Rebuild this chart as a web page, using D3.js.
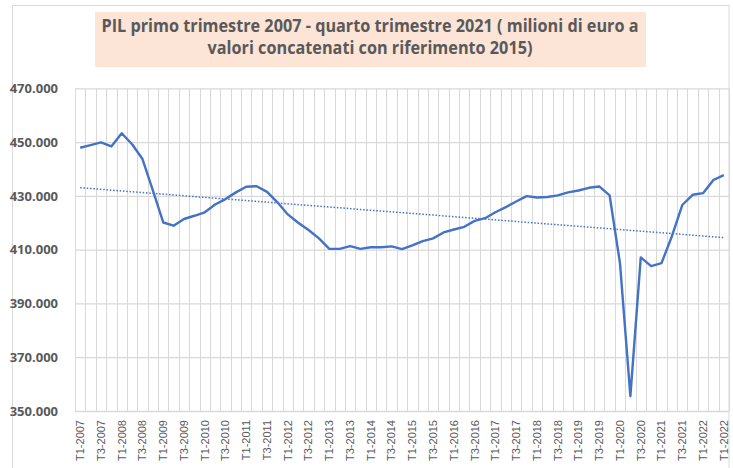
<!DOCTYPE html>
<html>
<head>
<meta charset="utf-8">
<script src="https://cdn.jsdelivr.net/npm/d3@7"></script>
<style>
  body { margin: 0; background: #fff; }
  svg { display: block; }
</style>
</head>
<body>
<div id="chart"></div>
<script>
const titleLines = [
  'PIL primo trimestre 2007 - quarto trimestre 2021 ( milioni di euro a',
  'valori concatenati con riferimento 2015)'
]

// one label every two quarters, as in the original sheet
const xTickLabels = [
  'T1-2007', 'T3-2007', 'T1-2008', 'T3-2008', 'T1-2009', 'T3-2009', 'T1-2010', 'T3-2010',
  'T1-2011', 'T3-2011', 'T1-2012', 'T3-2012', 'T1-2013', 'T3-2013', 'T1-2014', 'T3-2014',
  'T1-2015', 'T3-2015', 'T1-2016', 'T3-2016', 'T1-2017', 'T3-2017', 'T1-2018', 'T3-2018',
  'T1-2019', 'T3-2019', 'T1-2020', 'T3-2020', 'T1-2021', 'T3-2021', 'T1-2022', 'T1-2022'
]

// PIL, milioni di euro
const pil = [
  447900, 448900, 449900, 448400, 453300, 449200, 443700, 432000,
  420100, 418900, 421400, 422600, 423900, 426800, 428800, 431300,
  433400, 433600, 431500, 427600, 423100, 420000, 417300, 414200,
  410300, 410300, 411300, 410300, 410900, 410900, 411200, 410200,
  411600, 413200, 414200, 416400, 417500, 418500, 420700, 421700,
  423900, 425800, 427900, 429900, 429400, 429600, 430200, 431300,
  432000, 433000, 433500, 430200, 404900, 355500, 407100, 403900,
  405000, 415000, 426600, 430400, 431000, 435900, 437700
]

const yTicks = [350000, 370000, 390000, 410000, 430000, 450000, 470000]

const width = 733, height = 468
const plot = { left: 75, right: 729, top: 88.3, bottom: 411 }
const grey = '#595959', gridColor = '#d9d9d9', blue = '#4472c4'

const it = d3.formatLocale({ decimal: ',', thousands: '.', grouping: [3], currency: ['€', ''] })
const fmt = it.format(',.0f')

const svg = d3.select('#chart').append('svg')
  .attr('width', width)
  .attr('height', height)

// chart area border
svg.append('rect')
  .attr('x', 12.5).attr('y', 5.5)
  .attr('width', 716.5).attr('height', 480)
  .attr('fill', 'none')
  .attr('stroke', gridColor)

const idx = d3.range(pil.length)

const x = d3.scaleBand()
  .domain(idx)
  .range([plot.left, plot.right])
  .padding(0)

const y = d3.scaleLinear()
  .domain([350000, 470000])
  .range([plot.bottom, plot.top])

// vertical gridlines between categories
const xEdges = idx.map(i => x(i)).concat([x(idx[idx.length - 1]) + x.bandwidth()])
svg.append('g')
  .selectAll('line')
  .data(xEdges)
  .join('line')
  .attr('x1', d => Math.round(d) + 0.5).attr('x2', d => Math.round(d) + 0.5)
  .attr('y1', plot.top).attr('y2', plot.bottom)
  .attr('stroke', gridColor)
  .attr('stroke-width', 1)

// horizontal gridlines + y labels
const yAxis = d3.axisLeft(y)
  .tickValues(yTicks)
  .tickSize(-(plot.right - plot.left))
  .tickFormat(fmt)
  .tickPadding(17)

svg.append('g')
  .attr('transform', `translate(${plot.left},0)`)
  .call(yAxis)
  .call(g => g.select('.domain').remove())
  .call(g => g.selectAll('.tick line').attr('stroke', gridColor).attr('stroke-width', 1.3))
  .call(g => g.selectAll('.tick text')
    .attr('fill', grey)
    .style('font-family', 'Open Sans, Noto Sans, sans-serif')
    .style('font-size', '13px')
    .style('font-weight', 'bold'))

// x labels, rotated
const xAxis = d3.axisBottom(x)
  .tickValues(idx.filter(i => i % 2 === 0))
  .tickSize(0)
  .tickFormat(i => xTickLabels[i / 2])

svg.append('g')
  .attr('transform', `translate(0,${plot.bottom})`)
  .call(xAxis)
  .call(g => g.select('.domain').remove())
  .call(g => g.selectAll('.tick text')
    .attr('fill', grey)
    .style('font-family', 'Liberation Sans, Arial, sans-serif')
    .style('font-size', '11px')
    .attr('text-anchor', 'end')
    .attr('transform', 'rotate(-90)')
    .attr('x', -9)
    .attr('y', 0)
    .attr('dy', '0.35em'))

// linear trend (least squares), like the Excel trendline
const n = pil.length
const mx = d3.mean(idx), my = d3.mean(pil)
const slope = d3.sum(idx, i => (i - mx) * (pil[i] - my)) / d3.sum(idx, i => (i - mx) * (i - mx))
const icpt = my - slope * mx
const cx = i => x(i) + x.bandwidth() / 2

svg.append('line')
  .attr('x1', cx(0)).attr('y1', y(icpt))
  .attr('x2', cx(n - 1)).attr('y2', y(icpt + slope * (n - 1)))
  .attr('stroke', blue)
  .attr('stroke-width', 1.5)
  .attr('stroke-dasharray', '1.5 1.8')

// PIL line
const line = d3.line()
  .x((d, i) => cx(i))
  .y(d => y(d))

svg.append('path')
  .datum(pil)
  .attr('d', line)
  .attr('fill', 'none')
  .attr('stroke', blue)
  .attr('stroke-width', 2.4)
  .attr('stroke-linejoin', 'round')

// title with peach box
const titleG = svg.append('g')
titleG.append('rect')
  .attr('x', 95).attr('y', 12)
  .attr('width', 551).attr('height', 55)
  .attr('fill', '#fce4d6')

titleG.selectAll('text')
  .data(titleLines)
  .join('text')
  .attr('x', 370)
  .attr('y', (d, i) => 32 + i * 22)
  .attr('text-anchor', 'middle')
  .attr('fill', grey)
  .style('font-family', 'Open Sans, Noto Sans, sans-serif')
  .style('font-size', '17px')
  .style('font-weight', 'bold')
  .text(d => d)

// squeeze first title line to the original width
const t0 = titleG.select('text').node()
const w0 = t0.getComputedTextLength()
const target = 537
if (w0 > 0) {
  const k = target / w0
  titleG.selectAll('text')
    .attr('textLength', function() { return this.getComputedTextLength() * k })
    .attr('lengthAdjust', 'spacingAndGlyphs')
}
</script>
</body>
</html>
